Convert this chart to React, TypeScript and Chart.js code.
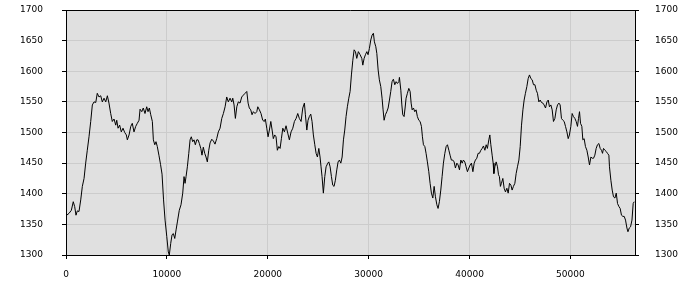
import React, { useEffect, useRef } from "react";
import { Chart, registerables } from "chart.js";

Chart.register(...registerables);

const xValues = [
  70, 300, 530, 720, 860, 990, 1120, 1290, 1460, 1620, 1790, 1950, 2110, 2280, 2450, 2610, 2780, 2950, 3100, 3270,
  3440, 3600, 3770, 3940, 4100, 4260, 4430, 4590, 4760, 4930, 5030, 5160, 5320, 5480, 5650, 5820, 5980, 6080, 6250, 6420,
  6570, 6740, 6910, 7070, 7240, 7340, 7510, 7660, 7830, 8000, 8130, 8260, 8400, 8560, 8660, 8800, 8920, 9050, 9220, 9370,
  9520, 9670, 9820, 9990, 10140, 10240, 10380, 10510, 10640, 10780, 10910, 11040, 11230, 11400, 11570, 11700, 11800, 11900, 12030, 12170,
  12300, 12420, 12560, 12690, 12820, 12960, 13090, 13220, 13360, 13480, 13610, 13750, 13880, 14010, 14150, 14280, 14450, 14610, 14770, 14940,
  15100, 15270, 15440, 15600, 15770, 15930, 16090, 16260, 16430, 16530, 16660, 16790, 16930, 17080, 17250, 17420, 17580, 17750, 17920, 18050,
  18170, 18310, 18440, 18570, 18740, 18910, 19010, 19170, 19330, 19500, 19660, 19760, 19900, 20030, 20160, 20300, 20430, 20550, 20690, 20820,
  20950, 21090, 21220, 21350, 21490, 21650, 21810, 21980, 22140, 22310, 22480, 22640, 22810, 22970, 23130, 23300, 23470, 23630, 23730, 23870,
  23990, 24120, 24260, 24390, 24520, 24660, 24790, 24920, 25060, 25180, 25280, 25380, 25510, 25650, 25780, 25950, 26050, 26180, 26310, 26440,
  26570, 26700, 26840, 26970, 27100, 27240, 27370, 27500, 27630, 27760, 27890, 28030, 28160, 28290, 28430, 28560, 28690, 28820, 28980, 29150,
  29320, 29420, 29550, 29680, 29820, 29940, 30070, 30210, 30340, 30470, 30570, 30710, 30810, 30940, 31060, 31200, 31330, 31430, 31530, 31660,
  31800, 31930, 32060, 32190, 32320, 32450, 32590, 32720, 32850, 32990, 33050, 33190, 33290, 33380, 33510, 33610, 33710, 33840, 33980, 34110,
  34210, 34310, 34440, 34570, 34700, 34830, 34970, 35100, 35230, 35330, 35430, 35570, 35690, 35820, 35960, 36090, 36220, 36360, 36490, 36620,
  36760, 36880, 37010, 37150, 37280, 37410, 37550, 37680, 37810, 37950, 38070, 38200, 38340, 38470, 38600, 38740, 38870, 39000, 39140, 39270,
  39390, 39530, 39660, 39790, 39930, 40060, 40190, 40330, 40460, 40580, 40720, 40850, 40980, 41120, 41250, 41380, 41520, 41650, 41770, 41910,
  42010, 42110, 42240, 42340, 42410, 42510, 42640, 42770, 42870, 42960, 43060, 43160, 43300, 43430, 43560, 43700, 43830, 43960, 44100, 44220,
  44350, 44490, 44620, 44750, 44890, 45020, 45150, 45290, 45410, 45540, 45680, 45810, 45940, 46080, 46210, 46340, 46480, 46610, 46730, 46870,
  47000, 47130, 47270, 47390, 47530, 47670, 47800, 47920, 48060, 48190, 48320, 48460, 48590, 48720, 48860, 48980, 49110, 49250, 49380, 49510,
  49650, 49780, 49900, 50040, 50170, 50300, 50440, 50570, 50700, 50800, 50900, 51000, 51130, 51230, 51360, 51490, 51630, 51760, 51890, 52030,
  52160, 52290, 52420, 52550, 52680, 52820, 52950, 53080, 53180, 53280, 53420, 53550, 53670, 53810, 53870, 54010, 54140, 54270, 54410, 54540,
  54670, 54810, 54930, 55060, 55200, 55330, 55460, 55600, 55700, 55830, 55960, 56100, 56220, 56320,
];

const yValues = [
  1365, 1368, 1373, 1387, 1379, 1365, 1372, 1371, 1390, 1412, 1425, 1450, 1471, 1493, 1518, 1545, 1550, 1549, 1564, 1558,
  1560, 1550, 1556, 1550, 1560, 1548, 1531, 1518, 1522, 1512, 1520, 1507, 1512, 1501, 1507, 1500, 1496, 1488, 1496, 1510,
  1515, 1501, 1510, 1515, 1520, 1538, 1534, 1540, 1531, 1542, 1534, 1540, 1529, 1518, 1488, 1480, 1485, 1477, 1462, 1448,
  1432, 1390, 1357, 1330, 1305, 1300, 1319, 1333, 1335, 1327, 1341, 1354, 1373, 1382, 1401, 1428, 1417, 1428, 1444, 1466,
  1488, 1493, 1485, 1488, 1480, 1488, 1488, 1482, 1474, 1463, 1476, 1466, 1460, 1452, 1471, 1483, 1489, 1486, 1481, 1490,
  1501, 1507, 1523, 1531, 1542, 1558, 1550, 1556, 1550, 1556, 1545, 1523, 1542, 1550, 1548, 1558, 1561, 1564, 1567, 1548,
  1540, 1537, 1529, 1534, 1531, 1534, 1542, 1537, 1531, 1520, 1518, 1522, 1507, 1493, 1504, 1518, 1504, 1490, 1496, 1493,
  1471, 1477, 1474, 1490, 1507, 1501, 1511, 1499, 1488, 1501, 1507, 1518, 1523, 1531, 1523, 1518, 1540, 1548, 1529, 1504,
  1520, 1526, 1530, 1518, 1496, 1480, 1466, 1460, 1474, 1460, 1444, 1428, 1401, 1428, 1444, 1450, 1452, 1444, 1428, 1414,
  1412, 1422, 1439, 1452, 1455, 1450, 1460, 1488, 1504, 1526, 1542, 1556, 1567, 1594, 1618, 1635, 1632, 1621, 1632, 1627,
  1621, 1610, 1621, 1627, 1632, 1627, 1637, 1651, 1659, 1662, 1648, 1640, 1629, 1602, 1586, 1575, 1556, 1537, 1520, 1529,
  1534, 1540, 1553, 1567, 1583, 1587, 1578, 1583, 1580, 1583, 1590, 1569, 1545, 1529, 1526, 1540, 1556, 1564, 1572, 1567,
  1548, 1537, 1540, 1534, 1537, 1526, 1520, 1518, 1510, 1493, 1480, 1477, 1466, 1452, 1436, 1417, 1401, 1393, 1412, 1395,
  1382, 1376, 1387, 1406, 1428, 1450, 1466, 1477, 1480, 1471, 1463, 1455, 1455, 1452, 1442, 1450, 1447, 1439, 1455, 1450,
  1455, 1452, 1444, 1436, 1442, 1447, 1450, 1436, 1450, 1455, 1458, 1466, 1466, 1471, 1474, 1478, 1471, 1480, 1474, 1488,
  1496, 1480, 1463, 1450, 1433, 1444, 1452, 1444, 1431, 1428, 1412, 1417, 1425, 1409, 1403, 1409, 1401, 1417, 1414, 1406,
  1412, 1417, 1433, 1444, 1455, 1477, 1512, 1537, 1553, 1564, 1575, 1588, 1594, 1588, 1586, 1578, 1578, 1569, 1564, 1550,
  1553, 1549, 1548, 1545, 1540, 1550, 1553, 1542, 1545, 1537, 1518, 1523, 1537, 1545, 1548, 1545, 1523, 1520, 1518, 1510,
  1501, 1490, 1496, 1510, 1531, 1526, 1523, 1518, 1510, 1523, 1534, 1515, 1510, 1488, 1490, 1477, 1471, 1460, 1447, 1460,
  1458, 1458, 1463, 1474, 1480, 1482, 1474, 1471, 1466, 1474, 1471, 1469, 1466, 1463, 1444, 1422, 1406, 1395, 1393, 1401,
  1384, 1379, 1376, 1365, 1363, 1363, 1357, 1344, 1338, 1344, 1346, 1357, 1384, 1387,
];

const xTicks = [0, 10000, 20000, 30000, 40000, 50000];
const yTicks = [1300, 1350, 1400, 1450, 1500, 1550, 1600, 1650, 1700];
const xMin = 0;
const xMax = 56400;
const yMin = 1300;
const yMax = 1700;

const FONT = { family: "'DejaVu Sans', sans-serif", size: 9 };

const plotFrame = {
  id: "plotFrame",
  beforeDraw(chart: any) {
    const { ctx, chartArea } = chart;
    ctx.save();
    ctx.fillStyle = "#e0e0e0";
    ctx.fillRect(chartArea.left, chartArea.top, chartArea.right - chartArea.left, chartArea.bottom - chartArea.top);
    ctx.restore();
  },
  afterDraw(chart: any) {
    const { ctx, chartArea } = chart;
    ctx.save();
    ctx.strokeStyle = "#000";
    ctx.lineWidth = 1;
    ctx.beginPath();
    ctx.moveTo(chartArea.left, Math.round(chartArea.top) + 0.5);
    ctx.lineTo(chartArea.right, Math.round(chartArea.top) + 0.5);
    ctx.stroke();
    ctx.restore();
  },
};

const fitY = (w: number) => (s: any) => {
  s.width = w;
  s.paddingTop = 0;
  s.paddingBottom = 0;
};

export default function App() {
  const ref = useRef<HTMLCanvasElement | null>(null);

  useEffect(() => {
    if (!ref.current) return;
    const points = xValues.map((x, i) => ({ x, y: yValues[i] }));
    const chart = new Chart(ref.current, {
      type: "line",
      data: {
        datasets: [
          {
            data: points,
            borderColor: "#000",
            borderWidth: 1,
            pointRadius: 0,
            tension: 0,
            fill: false,
          },
        ],
      },
      plugins: [plotFrame],
      options: {
        animation: false,
        responsive: false,
        devicePixelRatio: 1,
        layout: { padding: { top: 10, left: 0, right: 0, bottom: 0 } },
        plugins: { legend: { display: false }, tooltip: { enabled: false } },
        scales: {
          x: {
            type: "linear",
            position: "bottom",
            min: xMin,
            max: xMax,
            afterBuildTicks: (s: any) => {
              s.ticks = xTicks.map((v) => ({ value: v }));
            },
            afterFit: (s: any) => {
              s.height = 45;
            },
            grid: { color: "#cccccc", tickColor: "#000", tickLength: 4, lineWidth: 1 },
            border: { color: "#000", width: 1 },
            ticks: { color: "#000", font: FONT, padding: 10, maxRotation: 0, autoSkip: false, callback: (v: any) => String(v) },
          },
          y: {
            position: "left",
            min: yMin,
            max: yMax,
            afterBuildTicks: (s: any) => {
              s.ticks = yTicks.map((v) => ({ value: v }));
            },
            afterFit: fitY(66),
            grid: { color: "#cccccc", tickColor: "#000", tickLength: 4, lineWidth: 1 },
            border: { color: "#000", width: 1 },
            ticks: { color: "#000", font: FONT, padding: 19, autoSkip: false, callback: (v: any) => String(v) },
          },
          y2: {
            position: "right",
            min: yMin,
            max: yMax,
            afterBuildTicks: (s: any) => {
              s.ticks = yTicks.map((v) => ({ value: v }));
            },
            afterFit: fitY(65),
            grid: { drawOnChartArea: false, tickColor: "#000", tickLength: 4, lineWidth: 1 },
            border: { color: "#000", width: 1 },
            ticks: { color: "#000", font: FONT, padding: 16, autoSkip: false, callback: (v: any) => String(v) },
          },
        },
      },
    });
    return () => chart.destroy();
  }, []);

  return (
    <div style={{ position: "fixed", left: 0, top: 0, width: 700, height: 300, background: "#fff" }}>
      <canvas ref={ref} width={700} height={300} style={{ width: 700, height: 300 }} />
    </div>
  );
}
